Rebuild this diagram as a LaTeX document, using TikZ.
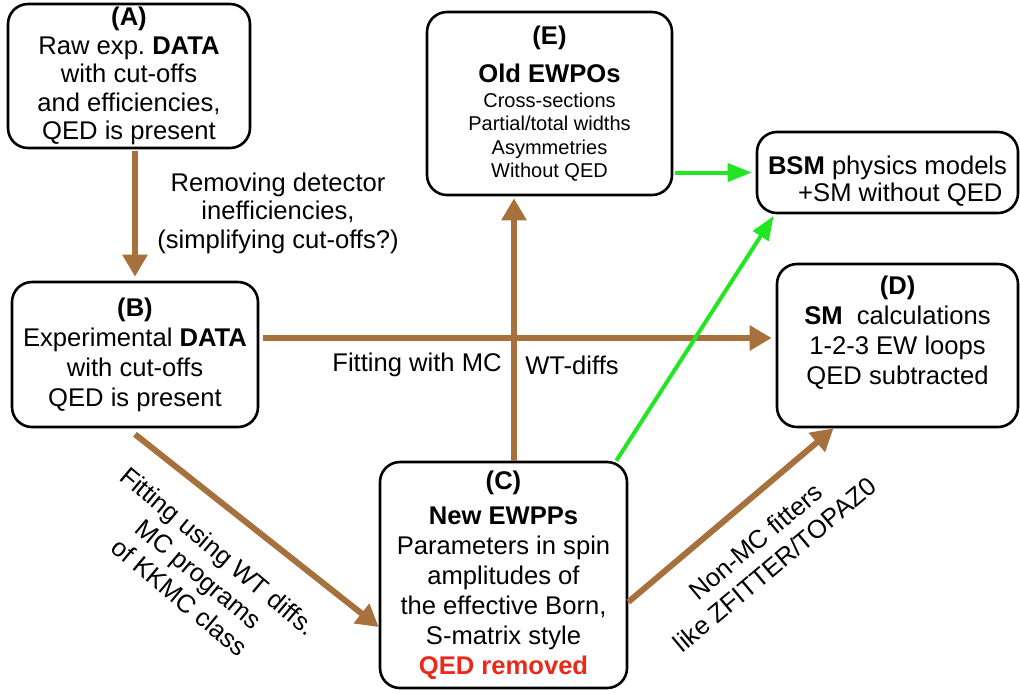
\documentclass[tikz,border=0pt]{standalone}
\usepackage{fontspec}
\setmainfont{Liberation Sans}
\usetikzlibrary{arrows.meta}
\definecolor{graphc1}{RGB}{166,113,60}
\definecolor{graphc2}{RGB}{34,230,34}
\definecolor{graphc3}{RGB}{235,40,25}
\newcommand{\ewpobig}{\fontsize{12.8}{11.7}\selectfont\bfseries}

\begin{document}
\begin{tikzpicture}[x=0.5pt, y=-0.5pt,
		box/.style={draw, line width=1.3pt, rounded corners=10pt, align=center, inner sep=0pt, font=\fontsize{12.8}{15}\selectfont},
		lbl/.style={align=center, inner sep=0pt, font=\fontsize{12.8}{15}\selectfont},
		brarrow/.style={draw=graphc1, line width=3pt, -{Triangle[length=11pt, width=12pt]}},
		grarrow/.style={draw=graphc2, line width=2pt, -{Triangle[length=12pt, width=9pt]}}]
		\useasboundingbox (0,0) rectangle (1020,693);
		
		\node[box, minimum width=121pt, minimum height=72pt, font=\fontsize{12.8}{14.3}\selectfont] (A) at (129,76) {\textbf{(A)}\\Raw exp.\ \textbf{DATA}\\with cut-offs\\and efficiencies,\\QED is present};
		\node[box, minimum width=123pt, minimum height=72.5pt] (B) at (135,354.5) {\textbf{(B)}\\Experimental \textbf{DATA}\\with cut-offs\\QED is present};
		\node[box, minimum width=123.5pt, minimum height=113pt] (C) at (503.5,575) {\textbf{(C)}\\[2.5pt]\textbf{New EWPPs}\\Parameters in spin\\amplitudes of\\the effective Born,\\S-matrix style\\\textcolor{graphc3}{\textbf{QED removed}}};
		\node[box, minimum width=120.5pt, minimum height=81.5pt] (D) at (897.5,345.5) {\textbf{(D)}\\\textbf{SM}\ \ calculations\\1-2-3 EW loops\\QED subtracted\\\mbox{}};
		\node[box, minimum width=122.5pt, minimum height=91.5pt, font=\fontsize{10}{11.7}\selectfont] (E) at (549.5,103.5) {{\ewpobig (E)}\\[6.3pt]{\ewpobig Old EWPOs}\\[0.8pt]Cross-sections\\Partial/total widths\\Asymmetries\\Without QED};
		\node[box, minimum width=130.5pt, minimum height=40.5pt, font=\fontsize{12.8}{13.5}\selectfont] (BSM) at (887.5,172.5) {\rule{0pt}{18pt}\textbf{BSM} physics models\\\hspace*{1em}+SM without QED};
		
		\node[lbl, font=\fontsize{12.8}{14.25}\selectfont] (rmv) at (278,213) {Removing detector\\inefficiencies,\\(simplifying cut-offs?)};
		\node[lbl] (fitmc) at (417,365) {Fitting with MC};
		\node[lbl] (wtd) at (572,365) {WT-diffs};
		\node[lbl, rotate=-40] (fitwt) at (199,574) {Fitting using WT diffs.\\MC programs\\of KKMC class};
		\node[lbl, rotate=40] (nonmc) at (765,553) {Non-MC fitters\\like ZFITTER/TOPAZ0};
		
		\coordinate (bd) at ([yshift=8.25pt]B.east);
		\coordinate (ce) at ([xshift=5.25pt]C.north);
		
		\draw[brarrow, shorten <=1pt, shorten >=2pt] (A.south -| B.north) -- (B.north);
		\draw[brarrow, shorten <=2pt, shorten >=2pt] (bd) -- (bd -| D.west);
		\draw[brarrow, shorten >=1pt] (ce) -- (ce |- E.south);
		\draw[brarrow] ([yshift=-3pt]B.south) -- ([yshift=-26pt]C.west);
		\draw[brarrow] ([yshift=-13.5pt]C.east) -- ([xshift=-32pt]D.south);
		
		\draw[grarrow, shorten <=1pt, shorten >=2pt] (E.east |- BSM.west) -- (BSM.west);
		\draw[grarrow, shorten >=1pt] ([xshift=-6pt]C.north east) -- ([xshift=9.5pt]BSM.south west);
		\end{tikzpicture}
\end{document}
